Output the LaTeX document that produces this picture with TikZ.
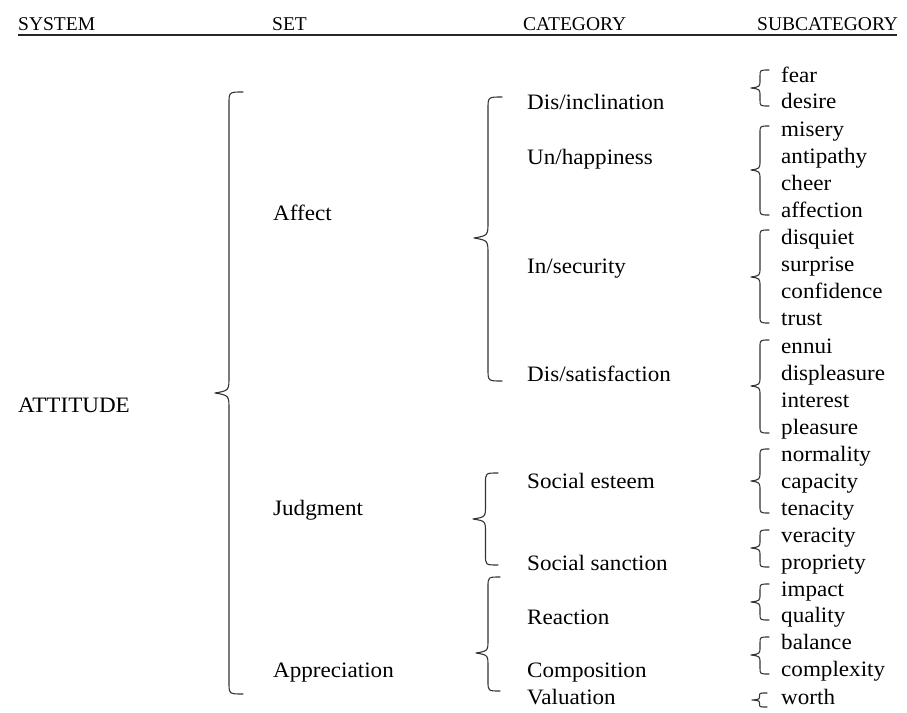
\documentclass[tikz,border=0pt]{standalone}
\usepackage{fontspec}
\setmainfont{Liberation Serif}
\newfontfamily\bodyfont[FakeStretch=1.05]{Liberation Serif}
\newcommand\cbrace[6]{% xend, amplitude, top, bottom, tip, radius
  \draw[bracestyle] (#1,#3) .. controls ({#1-#2/2},#3) .. ({#1-#2/2},{#3+#6})
    -- ({#1-#2/2},{#5-1.4*#6}) .. controls ({#1-#2/2},{#5-0.2*#6}) .. ({#1-#2},#5)
    .. controls ({#1-#2/2},{#5+0.2*#6}) .. ({#1-#2/2},{#5+1.4*#6})
    -- ({#1-#2/2},{#4-#6}) .. controls ({#1-#2/2},#4) .. (#1,#4);}
\tikzset{
  txt/.style={font=\bodyfont\fontsize{22}{26}\selectfont, anchor=base west, inner sep=0pt, text=black},
  hdr/.style={font=\fontsize{19.5}{22}\selectfont, anchor=base west, inner sep=0pt, text=black},
  bracestyle/.style={draw=black!80, line width=1.1pt, line cap=round, line join=round}
}
\begin{document}
\begin{tikzpicture}[x=1pt,y=-1pt]
\useasboundingbox (0,0) rectangle (907,712);
% header
\node[hdr] (hsys) at (18,30) {SYSTEM};
\node[hdr] (hset) at (272,30) {SET};
\node[hdr] (hcat) at (523,30) {CATEGORY};
\node[hdr] (hsub) at (757,30) {SUBCATEGORY};
\coordinate (hl) at (18,35);
\coordinate (hr) at (897,35);
\draw[line width=1.6pt, black!85] (hl) -- (hr);
% system
\node[txt] (att) at (18,412) {ATTITUDE};
% sets
\node[txt] (aff) at (273,220) {Affect};
\node[txt] (jud) at (273,515) {Judgment};
\node[txt] (app) at (273,677) {Appreciation};
% categories
\node[txt] (c1) at (527,109) {Dis/inclination};
\node[txt] (c2) at (527,164) {Un/happiness};
\node[txt] (c3) at (527,273) {In/security};
\node[txt] (c4) at (527,381) {Dis/satisfaction};
\node[txt] (c5) at (527,488) {Social esteem};
\node[txt] (c6) at (527,570) {Social sanction};
\node[txt] (c7) at (527,624) {Reaction};
\node[txt] (c8) at (527,677) {Composition};
\node[txt] (c9) at (527,704) {Valuation};
% subcategories
\node[txt] (s1) at (781,82) {fear};
\node[txt] (s2) at (781,108) {desire};
\node[txt] (s3) at (781,136) {misery};
\node[txt] (s4) at (781,163) {antipathy};
\node[txt] (s5) at (781,190) {cheer};
\node[txt] (s6) at (781,217) {affection};
\node[txt] (s7) at (781,244) {disquiet};
\node[txt] (s8) at (781,271) {surprise};
\node[txt] (s9) at (781,298) {confidence};
\node[txt] (s10) at (781,325) {trust};
\node[txt] (s11) at (781,353) {ennui};
\node[txt] (s12) at (781,380) {displeasure};
\node[txt] (s13) at (781,407) {interest};
\node[txt] (s14) at (781,434) {pleasure};
\node[txt] (s15) at (781,461) {normality};
\node[txt] (s16) at (781,488) {capacity};
\node[txt] (s17) at (781,515) {tenacity};
\node[txt] (s18) at (781,542) {veracity};
\node[txt] (s19) at (781,569) {propriety};
\node[txt] (s20) at (781,596) {impact};
\node[txt] (s21) at (781,622) {quality};
\node[txt] (s22) at (781,649) {balance};
\node[txt] (s23) at (781,676) {complexity};
\node[txt] (s24) at (781,704) {worth};
% braces: system -> sets
\cbrace{243}{28}{92}{694}{393}{12}
% sets -> categories
\cbrace{502}{28}{97}{381}{238}{12}
\cbrace{498}{25}{473}{565}{519}{10}
\cbrace{500}{24}{577}{691}{653}{10}
% categories -> subcategories
\cbrace{769}{18}{70}{106}{88}{6}
\cbrace{769}{18}{126}{215}{170}{7}
\cbrace{769}{18}{230}{323}{277}{7}
\cbrace{769}{18}{340}{433}{386}{7}
\cbrace{769}{18}{449}{513}{481}{7}
\cbrace{769}{18}{530}{567}{548}{6}
\cbrace{769}{18}{584}{620}{602}{6}
\cbrace{769}{18}{637}{674}{655}{6}
\cbrace{767}{15}{693}{707}{700}{3}
\end{tikzpicture}
\end{document}
